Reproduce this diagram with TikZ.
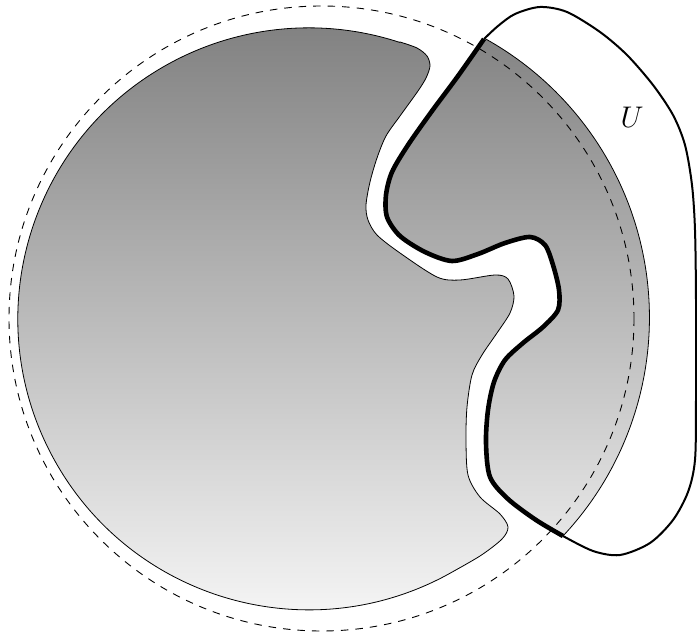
\documentclass[tikz,border=0pt]{standalone}
\usepackage{amsmath}
\usepackage{xcolor}
\usepackage{tikz}
\definecolor{regiontop}{RGB}{128,128,128}
\definecolor{regionbottom}{RGB}{252,252,252}

\begin{document}
\begin{tikzpicture}[x=1pt,y=-1pt,
    thinedge/.style={line width=0.8pt},
    cutedge/.style={line width=4.6pt,line join=round},
    openset/.style={line width=2pt,line join=round},
    ballline/.style={line width=0.9pt,dash pattern=on 7.5pt off 7pt}]
    \useasboundingbox (0,0) rectangle (697,636);

    % Shaded region: left part with the channel, and the right part
    \shade[top color=regiontop,bottom color=regionbottom]
        (445,576) arc[start angle=62.1,end angle=288.2,radius=291]
        -- plot[smooth] coordinates {(400,42) (417,48) (427,56) (430,66) (426,78)
            (418,91) (400,116) (386,136) (377,158) (370,182) (366,205) (368,220)
            (377,235) (400,253) (437,277) (460,280) (495,275) (508,279) (514,296)
            (510,313) (497,333) (482,355) (472,375) (467,407) (466,440) (468,475)
            (480,497) (500,514) (508,527) (502,539) (480,556) (445,576)} -- cycle
        (563,536) arc[start angle=43.2,end angle=-61.1,radius=319]
        -- plot[smooth] coordinates {(484,39) (458,76) (432,111) (408,145) (392,172)
            (386,195) (387,217) (400,236) (425,252) (452,261) (478,254) (505,243)
            (530,237) (545,245) (553,265) (559,290) (558,310) (543,327) (523,343)
            (505,360) (494,382) (488,410) (486,443) (490,477) (508,499) (536,520)
            (563,536)}
        -- cycle;

    % Thin outlines
    \draw[thinedge] (445,576) arc[start angle=62.1,end angle=288.2,radius=291]
        -- plot[smooth] coordinates {(400,42) (417,48) (427,56) (430,66) (426,78)
            (418,91) (400,116) (386,136) (377,158) (370,182) (366,205) (368,220)
            (377,235) (400,253) (437,277) (460,280) (495,275) (508,279) (514,296)
            (510,313) (497,333) (482,355) (472,375) (467,407) (466,440) (468,475)
            (480,497) (500,514) (508,527) (502,539) (480,556) (445,576)} -- cycle;
    \draw[thinedge] (563,536) arc[start angle=43.2,end angle=-61.1,radius=319];

    % Dashed ball
    \coordinate (centre) at (321.5,318.5);
    \draw[ballline] (centre) circle (312.5);

    % The set U
    \draw[openset] plot[smooth] coordinates {(484,39) (498,26) (515,14) (540,7) (567,12)
            (600,32) (627,55) (653,85) (673,115) (685,145) (692,185) (695,230)
            (696,300) (696,400) (695,460) (688,492) (673,520) (650,543) (620,555)
            (593,551) (563,536)};
    \draw[cutedge] plot[smooth] coordinates {(484,39) (458,76) (432,111) (408,145) (392,172)
            (386,195) (387,217) (400,236) (425,252) (452,261) (478,254) (505,243)
            (530,237) (545,245) (553,265) (559,290) (558,310) (543,327) (523,343)
            (505,360) (494,382) (488,410) (486,443) (490,477) (508,499) (536,520)
            (563,536)};
    \node[font=\Huge] (ulabel) at (632,117) {\scalebox{1.2}{$U$}};
\end{tikzpicture}
\end{document}
